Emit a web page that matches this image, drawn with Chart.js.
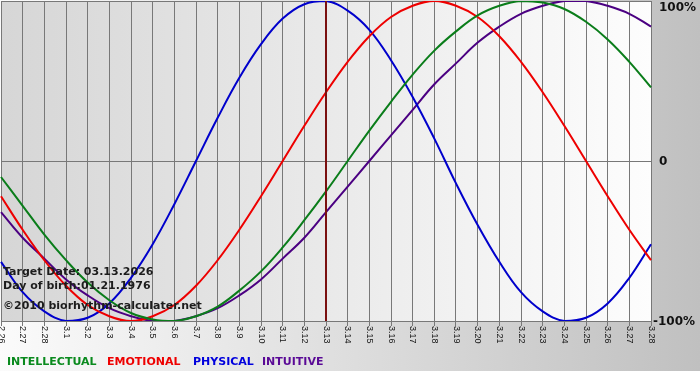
<!DOCTYPE html>
<html>
<head>
<meta charset="utf-8">
<script src="https://cdn.jsdelivr.net/npm/chart.js@4"></script>
<style>
  html, body { margin: 0; padding: 0; }
  body { width: 700px; height: 380px; overflow: hidden; position: relative;
         background: linear-gradient(to right, #fbfbfb, #c0c0c0); }
  #wrap { position: absolute; left: 0; top: 0; width: 700px; height: 380px; }
  #strip { position: absolute; left: 0; top: 371px; width: 700px; height: 9px; background: #fff; }
  .note, .leg { position: absolute; font-family: "DejaVu Sans", Verdana, sans-serif;
                font-weight: bold; font-size: 11px; line-height: 14px; white-space: nowrap; }
  .note { color: #1c1c1c; left: 3px; }
  .leg { top: 355px; }
</style>
</head>
<body>
<div id="wrap"><canvas id="bioChart" width="700" height="380"></canvas></div>
<div id="strip"></div>
<div class="note" style="top:265px">Target Date: 03.13.2026</div>
<div class="note" style="top:279px">Day of birth:01.21.1976</div>
<div class="note" style="top:299px">©2010 biorhythm-calculater.net</div>
<div class="leg" style="left:7px;color:#0a8a1e">INTELLECTUAL</div>
<div class="leg" style="left:107px;color:#ee0000">EMOTIONAL</div>
<div class="leg" style="left:193px;color:#0000dd">PHYSICAL</div>
<div class="leg" style="left:262px;color:#5a0a96">INTUITIVE</div>
<script>
const days = ["2.26", "2.27", "2.28", "3.1", "3.2", "3.3", "3.4", "3.5", "3.6", "3.7", "3.8",
    "3.9", "3.10", "3.11", "3.12", "3.13", "3.14", "3.15", "3.16", "3.17", "3.18", "3.19",
    "3.20", "3.21", "3.22", "3.23", "3.24", "3.25", "3.26", "3.27", "3.28"];

const physical = [-63, -82, -94, -100, -98, -89, -73, -52, -27, 0, 27, 52, 73, 89, 98, 100,
    94, 82, 63, 40, 14, -14, -40, -63, -82, -94, -100, -98, -89, -73, -52];
const emotional = [-22, -43, -62, -78, -90, -97, -100, -97, -90, -78, -62, -43, -22, 0, 22, 43,
    62, 78, 90, 97, 100, 97, 90, 78, 62, 43, 22, 0, -22, -43, -62];
const intellectual = [-10, -28, -46, -62, -76, -87, -95, -99, -100, -97, -91, -81, -69, -54, -37, -19,
    0, 19, 37, 54, 69, 81, 91, 97, 100, 99, 95, 87, 76, 62, 46];
const intuitive = [-32, -48, -61, -74, -84, -92, -97, -100, -100, -97, -92, -84, -74, -61, -48, -32,
    -16, 0, 16, 32, 48, 61, 74, 84, 92, 97, 100, 100, 97, 92, 84];

const yTicks = [100, 0, -100];
const yTickLabels = ["100%", "0", "-100%"];
const targetIndex = 15;

// plot background, target line, rotated date labels, percent labels
const bioPlugin = {
    id: "bio",
    beforeDraw(chart) {
        const { ctx, chartArea: a } = chart;
        const g = ctx.createLinearGradient(a.left, 0, a.right, 0);
        g.addColorStop(0, "#d6d6d6");
        g.addColorStop(1, "#fdfdfd");
        ctx.save();
        ctx.fillStyle = g;
        ctx.fillRect(a.left, a.top, a.right - a.left, a.bottom - a.top);
        ctx.restore();
    },
    afterDatasetsDraw(chart) {
        const { ctx, chartArea: a, scales } = chart;
        const x = scales.x, y = scales.y;
        ctx.save();
        // target date line
        const tx = x.getPixelForValue(targetIndex);
        ctx.strokeStyle = "#7a1010";
        ctx.lineWidth = 2;
        ctx.beginPath();
        ctx.moveTo(tx, a.top);
        ctx.lineTo(tx, a.bottom);
        ctx.stroke();

        // date labels, rotated clockwise
        ctx.fillStyle = "#151515";
        ctx.font = "9px 'Liberation Sans', Arial, sans-serif";
        ctx.textAlign = "left";
        ctx.textBaseline = "middle";
        days.forEach((d, i) => {
            const px = x.getPixelForValue(i);
            ctx.save();
            ctx.translate(px, a.bottom + 5);
            ctx.rotate(Math.PI / 2);
            ctx.fillText(d, 0, 0);
            ctx.restore();
        });

        // y labels on the right
        ctx.fillStyle = "#111";
        ctx.font = "bold 12px 'DejaVu Sans', Verdana, sans-serif";
        yTicks.forEach((v, i) => {
            let py = y.getPixelForValue(v);
            py = Math.max(py + 1, 8);
            const lx = yTickLabels[i].startsWith("-") ? a.right + 2 : a.right + 8;
            ctx.fillText(yTickLabels[i], lx, py);
        });
        ctx.restore();
    }
};

function line(label, data, color) {
    return {
        label: label,
        data: data,
        borderColor: color,
        borderWidth: 2,
        pointRadius: 0,
        fill: false,
        tension: 0.4,
    };
}

const ctx = document.getElementById("bioChart").getContext("2d");
new Chart(ctx, {
    type: "line",
    data: {
        labels: days,
        datasets: [
            line("INTELLECTUAL", intellectual, "#0a7d1a"),
            line("EMOTIONAL", emotional, "#ee0000"),
            line("PHYSICAL", physical, "#0000cc"),
            line("INTUITIVE", intuitive, "#4b0082"),
        ],
    },
    options: {
        responsive: false,
        animation: false,
        events: [],
        layout: { padding: { left: 1, top: 1, right: 49, bottom: 54 } },
        plugins: { legend: { display: false }, tooltip: { enabled: false } },
        scales: {
            x: {
                offset: false,
                grid: { color: "#787878", lineWidth: 1, drawTicks: true, tickLength: 5, offset: false },
                border: { color: "#787878" },
                ticks: { display: false, autoSkip: false },
            },
            y: {
                min: -100,
                max: 100,
                grid: { color: "#787878", lineWidth: 1, drawTicks: false },
                border: { display: false },
                ticks: { display: false, stepSize: 100 },
            },
        },
    },
    plugins: [bioPlugin],
});
</script>
</body>
</html>
